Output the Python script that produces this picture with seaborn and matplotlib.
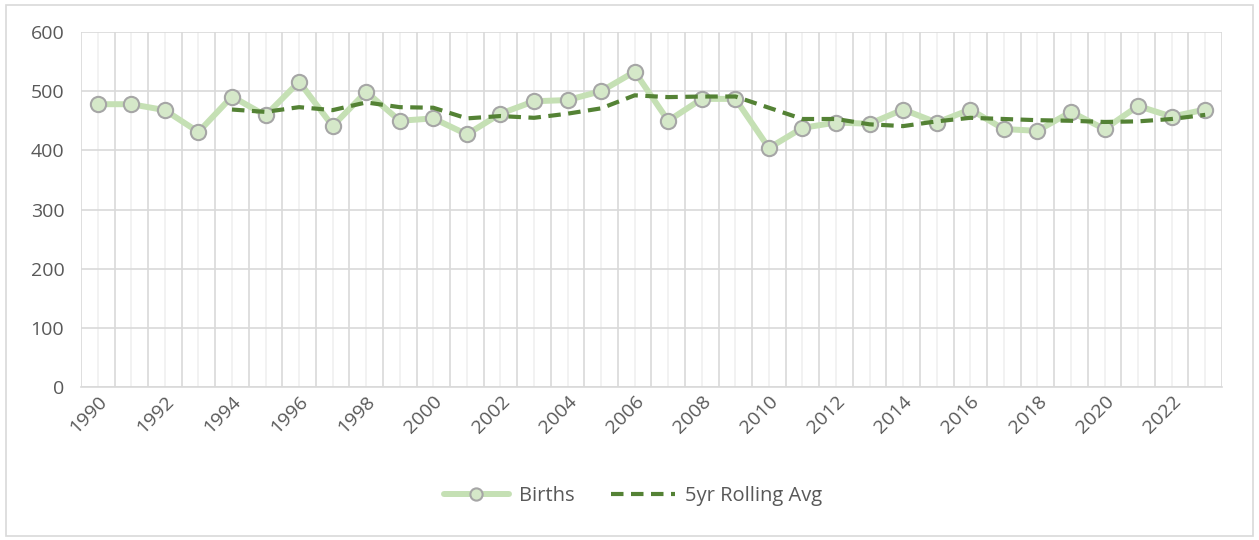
import numpy as np
import pandas as pd
import matplotlib
matplotlib.use("Agg")
import matplotlib.pyplot as plt
import seaborn as sns
from matplotlib.patches import Rectangle
from matplotlib.ticker import FixedLocator

# values
years = list(range(1990, 2024))
births = [478, 478, 468, 431, 491, 459, 516, 441, 499, 450, 454, 427, 462, 483,
          485, 500, 533, 450, 487, 487, 404, 438, 447, 445, 469, 447, 469, 436,
          433, 465, 436, 475, 457, 469]
rolling_avg = [None, None, None, None, 469, 465, 473, 468, 481, 473, 472, 454,
               458, 455, 462, 471, 493, 490, 491, 491, 472, 453, 453, 444, 441,
               449, 455, 453, 451, 450, 448, 449, 453, 460]

df = pd.DataFrame({"Year": years, "Births": births,
                   "Rolling": pd.array(rolling_avg, dtype="Float64")})
df["Rolling"] = df["Rolling"].astype(float)

sns.set_style("white")
plt.rcParams["font.family"] = ["Open Sans", "DejaVu Sans"]

fig = plt.figure(figsize=(12.59, 5.4), dpi=100)
ax = fig.add_axes([0.0643, 0.2833, 0.9063, 0.6574])

sns.lineplot(data=df, x="Year", y="Births", ax=ax, color="#C5E0B4", linewidth=4.3,
             marker="o", markersize=11, markerfacecolor="#D5E8C9",
             markeredgecolor="#A6A6A6", markeredgewidth=1.5, label="Births", zorder=3)
sns.lineplot(data=df.dropna(), x="Year", y="Rolling", ax=ax, color="#548235",
             linewidth=3, dashes=(3, 1.8), label="5yr Rolling Avg", zorder=4)

ax.set_xlim(1989.5, 2023.5)
ax.set_ylim(0, 600)
ax.set_yticks(range(0, 601, 100))
ax.set_xticks(years)
ax.set_xticklabels([str(y) if y % 2 == 0 else "" for y in years],
                   rotation=45, ha="right", va="top", rotation_mode="anchor")
ax.xaxis.set_minor_locator(FixedLocator(np.arange(1989.5, 2024, 1)))
ax.grid(axis="x", which="major", color="#F0F0F0", linewidth=1.2)
ax.grid(axis="x", which="minor", color="#D9D9D9", linewidth=1.2)
ax.grid(axis="y", which="major", color="#D9D9D9", linewidth=1.2)
ax.set_axisbelow(True)
ax.tick_params(axis="both", which="both", length=0, labelsize=14,
               labelcolor="#595959")
ax.tick_params(axis="x", pad=4)
ax.tick_params(axis="y", pad=12)
for s in ["top", "right", "left"]:
    ax.spines[s].set_visible(False)
ax.spines["bottom"].set_color("#D9D9D9")
ax.spines["bottom"].set_linewidth(1.2)
ax.set_xlabel("")
ax.set_ylabel("")

ax.get_legend().remove()
handles, labels = ax.get_legend_handles_labels()
leg = fig.legend(handles, labels, loc="center", bbox_to_anchor=(0.503, 0.082),
                 ncol=2, frameon=False, fontsize=14.5, handlelength=3.2,
                 columnspacing=1.8, handletextpad=0.5, markerscale=0.8)
for t in leg.get_texts():
    t.set_color("#595959")

fig.patches.append(Rectangle((6 / 1259, 4 / 540), 1247 / 1259, 531 / 540,
                             transform=fig.transFigure, fill=False,
                             edgecolor="#D9D9D9", linewidth=1.2))

fig.savefig("out.png", dpi=100, facecolor="white")
